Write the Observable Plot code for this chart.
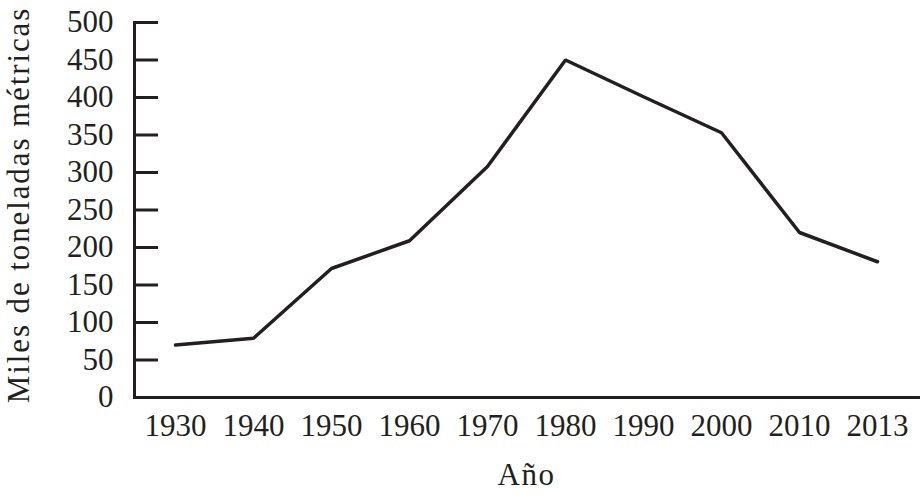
<!DOCTYPE html>
<html><head><meta charset="utf-8">
<script src="https://cdn.jsdelivr.net/npm/d3@7"></script>
<script src="https://cdn.jsdelivr.net/npm/@observablehq/plot@0.6"></script>
<style>
body{margin:0;background:#fff}
.ylab, .ylab text, [aria-label="ylabel"], [aria-label="ylabel"] text{letter-spacing:1.9px}
g[aria-label="x-axis label"] text{letter-spacing:1.5px}
</style>
</head><body><div id="chart"></div>
<script>
const years = ["1930","1940","1950","1960","1970","1980","1990","2000","2010","2013"];
const values = [70, 79, 172, 209, 308, 450, 401, 353, 220, 181];
const yTicks = [0, 50, 100, 150, 200, 250, 300, 350, 400, 450, 500];
const yLabel = "Miles de toneladas métricas";
const xLabel = "Año";
const data = years.map((year, i) => ({year, value: values[i]}));
const ink = "#231f20";
const chart = Plot.plot({
  width: 921, height: 496,
  marginLeft: 134, marginRight: 3, marginTop: 22, marginBottom: 99,
  style: {fontFamily: "Liberation Serif", fontSize: "31px", color: ink, background: "#fff"},
  x: {type: "point", domain: years, padding: 0.47},
  y: {domain: [0, 500]},
  marks: [
    Plot.axisY(yTicks, {tickSize: -24, tickPadding: 45, strokeWidth: 3, label: null}),
    Plot.axisX({tickSize: 0, tickPadding: 16, label: xLabel, labelAnchor: "center", labelArrow: "none", labelOffset: 87}),
    Plot.text([yLabel], {text: d => d, frameAnchor: "left", rotate: -90, dx: -128, dy: -5, lineAnchor: "top", textAnchor: "middle", fontSize: 31, fill: ink, ariaLabel: "ylabel", className: "ylab"}),
    Plot.frame({anchor: "left", stroke: ink, strokeWidth: 3}),
    Plot.frame({anchor: "bottom", stroke: ink, strokeWidth: 3}),
    Plot.line(data, {x: "year", y: "value", stroke: ink, strokeWidth: 3.5, strokeLinejoin: "miter"})
  ]
});
chart.querySelectorAll("text").forEach(t => { if (t.textContent === yLabel) t.style.letterSpacing = "1.9px"; });
document.getElementById("chart").appendChild(chart);
</script>
</body></html>
